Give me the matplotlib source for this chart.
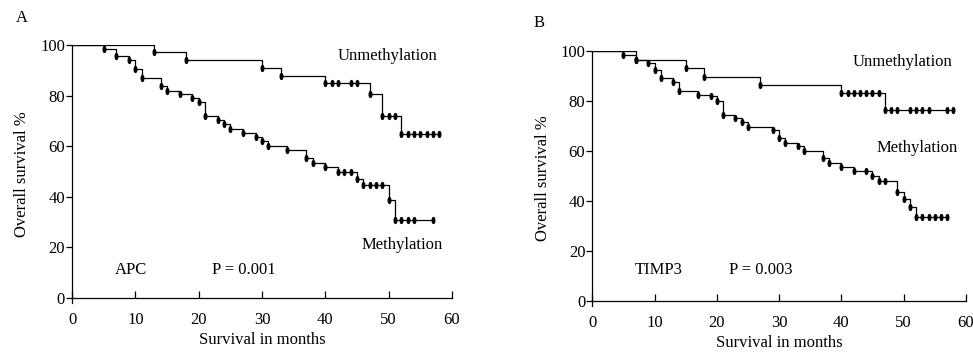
import numpy as np
import matplotlib.pyplot as plt

# Panel A (APC) - step times and survival (%) after each step / censor mark
apc_unmeth_t = [0, 13, 18, 30, 33, 40, 41, 42, 44, 45, 47, 49, 50, 51, 52, 53, 54, 55, 56, 57, 58]
apc_unmeth_s = [100, 97.1, 94.0, 91.0, 87.8, 84.8, 84.8, 84.8, 84.8, 84.8, 80.6, 72.0, 72.0, 72.0,
                64.7, 64.7, 64.7, 64.7, 64.7, 64.7, 64.7]
apc_meth_t = [0, 5, 7, 9, 10, 11, 14, 15, 17, 19, 20, 21, 23, 24, 25, 27, 29, 30, 31, 34, 37, 38,
              40, 42, 43, 44, 45, 46, 47, 48, 49, 50, 51, 52, 53, 54, 57]
apc_meth_s = [100, 98.5, 95.5, 94.0, 90.4, 86.8, 83.9, 81.9, 80.6, 78.9, 77.6, 72.0, 70.4, 68.7,
              66.8, 65.1, 63.8, 61.9, 59.9, 58.6, 55.3, 53.3, 51.8, 49.7, 49.7, 49.7, 47.1, 44.6,
              44.6, 44.6, 44.6, 38.7, 30.7, 30.7, 30.7, 30.7, 30.7]

# Panel B (TIMP3)
timp_unmeth_t = [0, 7, 15, 18, 27, 40, 41, 42, 43, 44, 45, 46, 47, 48, 49, 51, 52, 53, 54, 57, 58]
timp_unmeth_s = [100, 96.5, 93.2, 89.7, 86.5, 83.1, 83.1, 83.1, 83.1, 83.1, 83.1, 83.1,
                 76.3, 76.3, 76.3, 76.3, 76.3, 76.3, 76.3, 76.3, 76.3]
timp_meth_t = [0, 5, 7, 9, 10, 11, 13, 14, 17, 19, 20, 21, 23, 24, 25, 29, 30, 31, 33, 34, 37, 38,
               40, 42, 44, 45, 46, 47, 49, 50, 51, 52, 53, 54, 55, 56, 57]
timp_meth_s = [100, 98.5, 96.5, 95.2, 92.5, 89.0, 87.7, 84.0, 82.4, 81.8, 79.8, 74.4, 73.3, 71.7,
               69.7, 68.4, 65.0, 63.3, 61.9, 59.9, 57.0, 55.2, 53.6, 51.9, 51.9, 49.9, 47.9, 47.9,
               43.4, 40.8, 37.4, 33.4, 33.4, 33.4, 33.4, 33.4, 33.4]

plt.rcParams['font.family'] = 'Liberation Serif'
plt.rcParams['font.size'] = 12

# tall oval marker like the original censor ticks
theta = np.linspace(0, 2 * np.pi, 40)
oval = list(zip(0.45 * np.cos(theta), np.sin(theta)))

fig = plt.figure(figsize=(9.73, 3.53), dpi=100)
axA = fig.add_axes([0.074, 0.1416, 0.3906, 0.731])
axB = fig.add_axes([0.6087, 0.134, 0.384, 0.7215])


def km_panel(ax, curves, texts):
    for t, s in curves:
        ax.step(t, s, where='post', color='black', lw=0.9)
        ax.plot(t[1:], s[1:], ls='none', marker=oval, ms=4.2, color='black')
    ax.set_xlim(0, 60)
    ax.set_ylim(-2, 100)
    ax.spines['top'].set_visible(False)
    ax.spines['right'].set_visible(False)
    ax.spines['bottom'].set_position(('data', 0))
    ax.set_xticks(range(0, 61, 10))
    ax.set_yticks(range(0, 101, 20))
    ax.tick_params(axis='x', direction='in', length=5, width=0.9, pad=10)
    ax.tick_params(axis='y', direction='out', length=4, width=0.9, pad=1)
    for sp in ax.spines.values():
        sp.set_linewidth(0.9)
    ax.set_xlabel('Survival in months', fontsize=12, labelpad=3)
    ax.set_ylabel('Overall survival %', fontsize=12, labelpad=7)
    for x, y, s in texts:
        ax.text(x, y, s, fontsize=12, va='center', ha='left')


km_panel(axA, [(apc_unmeth_t, apc_unmeth_s), (apc_meth_t, apc_meth_s)],
         [(42.0, 95.5, 'Unmethylation'), (45.7, 21.0, 'Methylation'),
          (6.8, 11.1, 'APC'), (22.1, 11.1, 'P = 0.001')])
km_panel(axB, [(timp_unmeth_t, timp_unmeth_s), (timp_meth_t, timp_meth_s)],
         [(41.8, 95.7, 'Unmethylation'), (45.7, 61.2, 'Methylation'),
          (6.8, 12.3, 'TIMP3'), (22.0, 12.3, 'P = 0.003')])

fig.text(0.0164, 0.950, 'A', fontsize=12, va='center')
fig.text(0.548, 0.935, 'B', fontsize=12, va='center')

plt.savefig('out.png', dpi=100)
